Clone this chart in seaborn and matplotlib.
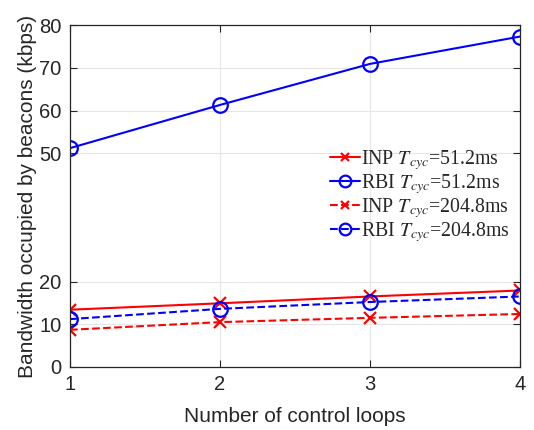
import numpy as np
import pandas as pd
import matplotlib
matplotlib.use("Agg")
import matplotlib.pyplot as plt
import seaborn as sns

loops = [1, 2, 3, 4]
inp_51 = [13.4, 14.9, 16.5, 17.9]
rbi_51 = [51.2, 61.3, 70.9, 77.3]
inp_204 = [8.7, 10.5, 11.5, 12.4]
rbi_204 = [11.2, 13.6, 15.2, 16.5]
labels = [r"INP $T_{cyc}$=51.2ms", r"RBI $T_{cyc}$=51.2ms",
          r"INP $T_{cyc}$=204.8ms", r"RBI $T_{cyc}$=204.8ms"]
yticks = [0, 10, 20, 50, 60, 70, 80]
xticks = [1, 2, 3, 4]

sns.set_theme(style="white")
plt.rcParams["font.family"] = ["Liberation Sans", "DejaVu Sans"]
plt.rcParams["mathtext.fontset"] = "stix"

fig = plt.figure(figsize=(5.34, 4.30), dpi=100)
ax = fig.add_axes([70/534, 1 - 367/430, 450/534, 342/430])

series = [inp_51, rbi_51, inp_204, rbi_204]
colors = ["#ff0000", "#0000ff", "#ff0000", "#0000ff"]
markers = ["x", "o", "x", "o"]
styles = ["-", "-", "--", "--"]
for vals, c, m, ls, lab in zip(series, colors, markers, styles, labels):
    df = pd.DataFrame({"x": loops, "y": vals})
    sns.lineplot(data=df, x="x", y="y", ax=ax, color=c, marker=m,
                 linestyle=ls, linewidth=1.5, markersize=10.5 if m == "o" else 8,
                 markerfacecolor="none" if m == "o" else c,
                 markeredgecolor=c, markeredgewidth=1.6, label=lab)

ax.set_xlim(1, 4)
ax.set_ylim(0, 80)
ax.set_xticks(xticks)
ax.set_yticks(yticks)
ax.grid(True, color="#e6e6e6", linewidth=0.8)
ax.set_axisbelow(True)
ax.tick_params(direction="in", length=5, width=0.8, colors="#262626",
               labelsize=14.5, top=True, right=True, left=True, bottom=True, pad=6)
for s in ax.spines.values():
    s.set_color("#262626")
    s.set_linewidth(0.9)
    s.set_visible(True)
ax.set_xlabel("Number of control loops", fontsize=15, color="#262626", labelpad=9)
ax.set_ylabel("Bandwidth occupied by beacons (kbps)", fontsize=15, color="#262626", labelpad=2)

leg = ax.legend(loc="center left", bbox_to_anchor=(0.578, 0.5), frameon=False,
                prop={"family": "Liberation Serif", "size": 14.3},
                handlelength=1.5, handletextpad=0.05, labelspacing=0.0,
                borderaxespad=0, borderpad=0, markerscale=0.8)

fig.savefig("out.png", dpi=100)
